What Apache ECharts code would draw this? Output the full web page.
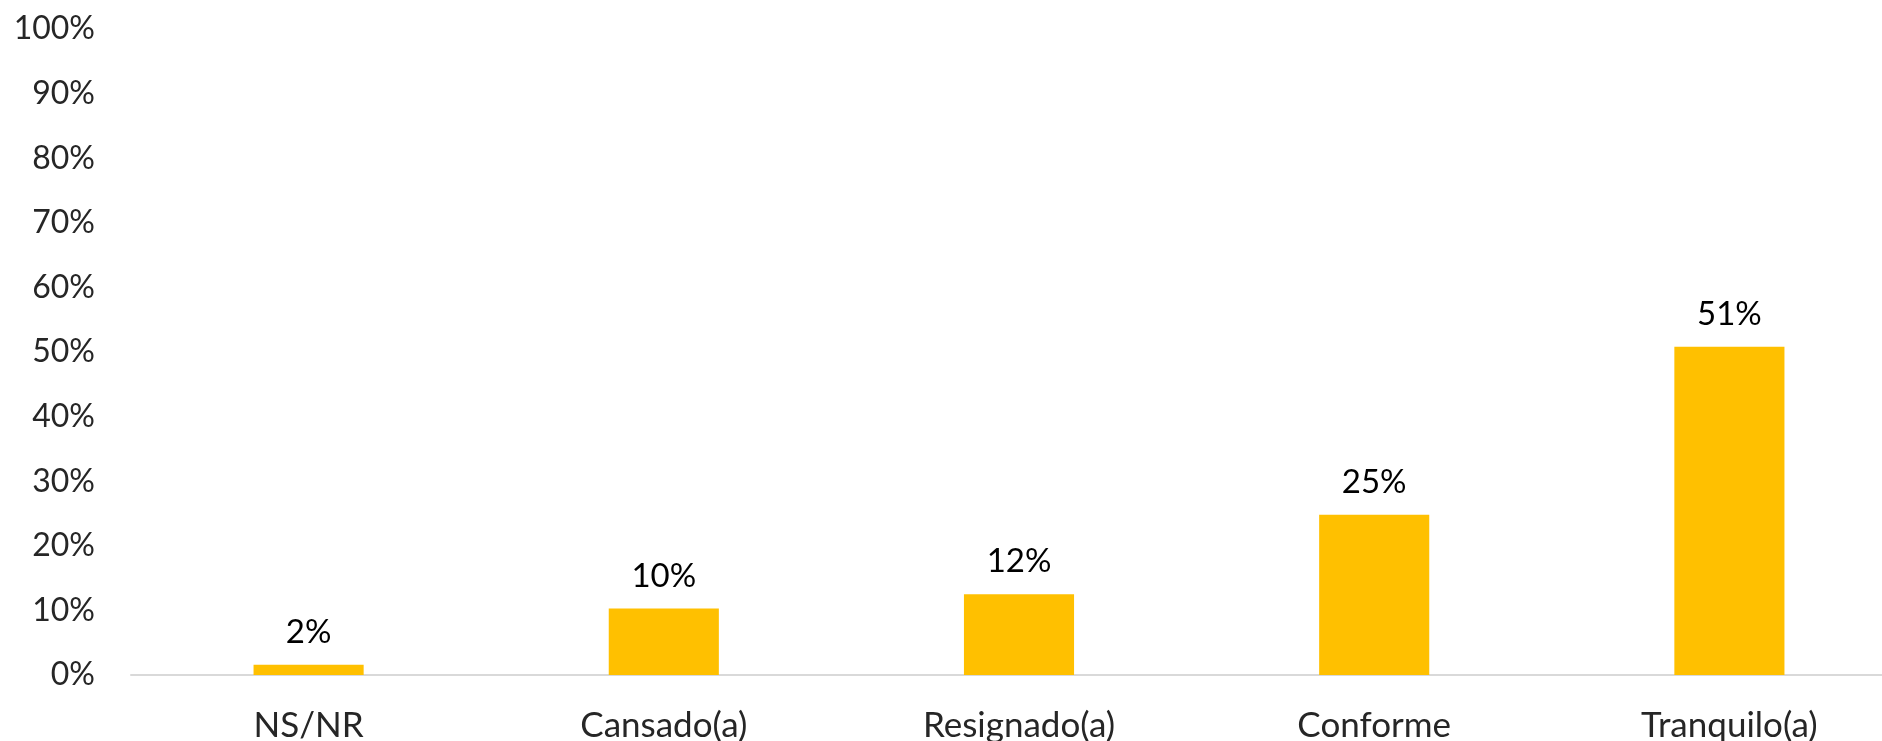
<!DOCTYPE html>
<html>
<head>
<meta charset="utf-8">
<script src="https://cdn.jsdelivr.net/npm/echarts@6/dist/echarts.min.js"></script>
<style>
html,body{margin:0;padding:0;background:#fff;}
#chart{width:1882px;height:741px;}
</style>
</head>
<body>
<div id="chart"></div>
<script>
const categories = ['NS/NR', 'Cansado(a)', 'Resignado(a)', 'Conforme', 'Tranquilo(a)'];
const values = [1.6, 10.3, 12.5, 24.8, 50.8];
const labels = ['2%', '10%', '12%', '25%', '51%'];

const chart = echarts.init(document.getElementById('chart'));
chart.setOption({
  backgroundColor: '#ffffff',
  animation: false,
  grid: { left: 131, width: 1776, top: 29, height: 646, containLabel: false, outerBoundsMode: 'none' },
  xAxis: {
    type: 'category',
    data: categories,
    axisLine: { show: true, lineStyle: { color: '#d9d9d9', width: 2 } },
    axisTick: { show: false },
    axisLabel: { color: '#262626', fontFamily: 'Lato', fontSize: 35, margin: 33 }
  },
  yAxis: {
    type: 'value',
    min: 0, max: 100, interval: 10,
    axisLine: { show: false },
    axisTick: { show: false },
    splitLine: { show: false },
    axisLabel: { color: '#262626', fontFamily: 'Lato', fontSize: 32, margin: 36, formatter: '{value}%' }
  },
  series: [{
    type: 'bar',
    data: values,
    barWidth: '31%',
    itemStyle: { color: '#ffc000' },
    label: {
      show: true,
      position: 'top',
      distance: 16,
      color: '#000000',
      fontFamily: 'Lato',
      fontSize: 33,
      formatter: p => labels[p.dataIndex]
    }
  }]
});
</script>
</body>
</html>
